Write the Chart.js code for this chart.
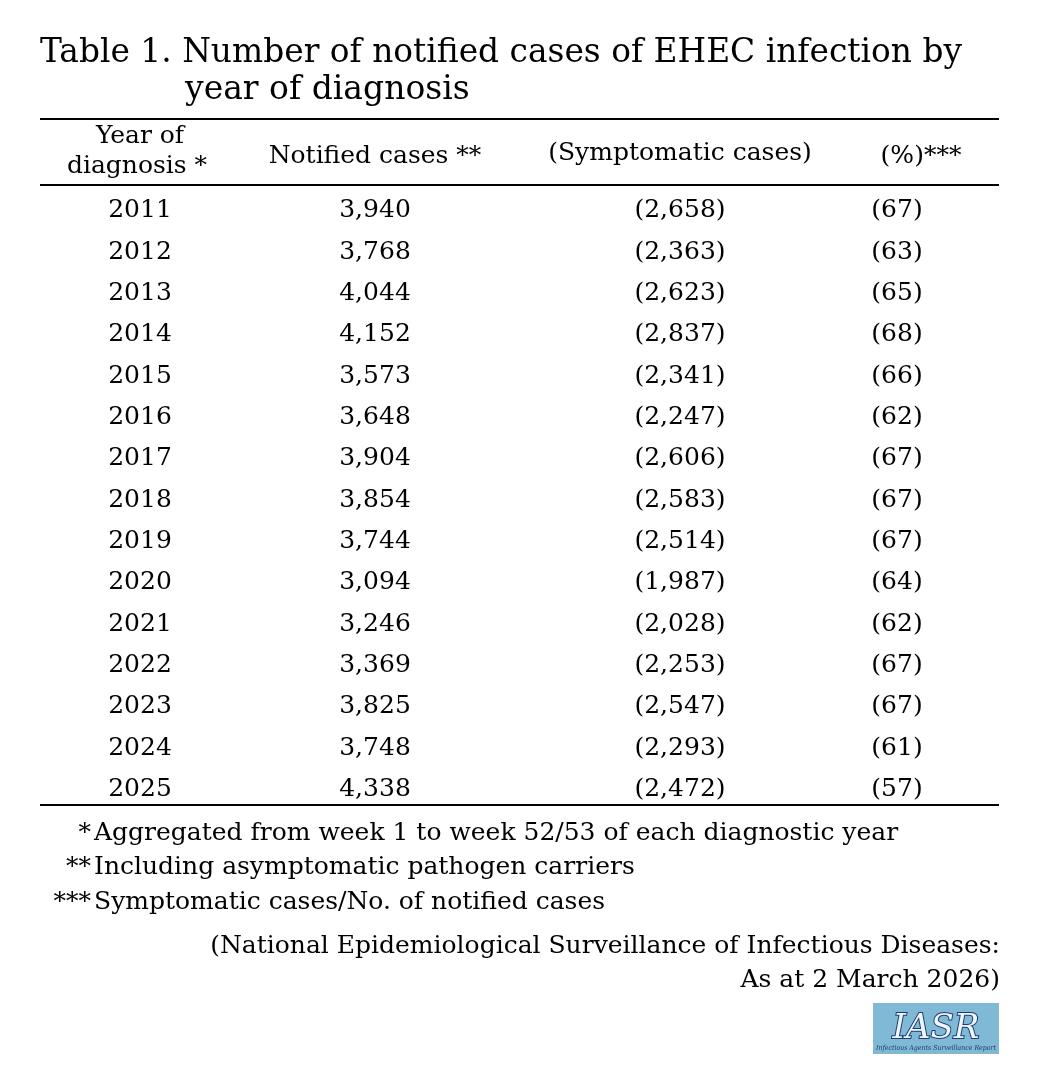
<!DOCTYPE html>
<html lang="en">
<head>
<meta charset="UTF-8">
<title>EHEC notified cases</title>
<script src="https://cdn.jsdelivr.net/npm/chart.js"></script>
<style>
  html, body { margin: 0; padding: 0; background: #fff; }
  #wrap { width: 1039px; height: 1080px; }
</style>
</head>
<body>
<div id="wrap"><canvas id="tbl"></canvas></div>
<script>
// table data
const years = ["2011","2012","2013","2014","2015","2016","2017","2018","2019","2020","2021","2022","2023","2024","2025"];
const notified = [3940, 3768, 4044, 4152, 3573, 3648, 3904, 3854, 3744, 3094, 3246, 3369, 3825, 3748, 4338];
const symptomatic = [2658, 2363, 2623, 2837, 2341, 2247, 2606, 2583, 2514, 1987, 2028, 2253, 2547, 2293, 2472];
const percent = [67, 63, 65, 68, 66, 62, 67, 67, 67, 64, 62, 67, 67, 61, 57];

// layout (pixels)
const COL_X = [140, 375, 680, 897];
const FONT = "'DejaVu Serif', serif";
const INK = "#000";
const fmt = n => n.toLocaleString("en-US");

const columns = [
  years,
  notified.map(fmt),
  symptomatic.map(v => "(" + fmt(v) + ")"),
  percent.map(v => "(" + v + ")")
];

const tablePlugin = {
  id: "tablePlugin",
  afterDraw(chart) {
    const ctx = chart.ctx;
    const x = chart.scales.x, y = chart.scales.y;
    ctx.save();
    ctx.fillStyle = INK;
    ctx.strokeStyle = INK;

    // title
    ctx.textAlign = "left";
    ctx.textBaseline = "alphabetic";
    ctx.font = "33px " + FONT;
    ctx.fillText("Table 1. Number of notified cases of EHEC infection by", 40, 62, 922);
    ctx.fillText("year of diagnosis", 185, 99);

    // rules
    ctx.lineWidth = 2;
    [119, 185, 805].forEach(yy => {
      ctx.beginPath(); ctx.moveTo(40, yy); ctx.lineTo(999, yy); ctx.stroke();
    });

    // header
    ctx.font = "25px " + FONT;
    ctx.textAlign = "center";
    ctx.textBaseline = "middle";
    ctx.fillText("Year of", 140, 136);
    ctx.fillText("diagnosis *", 137, 166);
    ctx.fillText("Notified cases **", 375, 156);
    ctx.fillText("(Symptomatic cases)", 680, 153);
    ctx.fillText("(%)***", 921, 156);

    // body cells, placed via the chart scales
    ctx.font = "25px " + FONT;
    chart.data.datasets.forEach((ds, c) => {
      ds.data.forEach((pt, r) => {
        ctx.fillText(columns[c][r], x.getPixelForValue(pt.x), y.getPixelForValue(pt.y));
      });
    });

    // footnotes
    ctx.textBaseline = "alphabetic";
    ctx.textAlign = "right";
    ctx.font = "25px " + FONT;
    ctx.fillText("*", 91, 840);
    ctx.fillText("**", 91, 874);
    ctx.fillText("***", 91, 909);
    ctx.textAlign = "left";
    ctx.fillText("Aggregated from week 1 to week 52/53 of each diagnostic year", 94, 840);
    ctx.fillText("Including asymptomatic pathogen carriers", 94, 874);
    ctx.fillText("Symptomatic cases/No. of notified cases", 94, 909);
    ctx.textAlign = "right";
    ctx.fillText("(National Epidemiological Surveillance of Infectious Diseases:", 1000, 953);
    ctx.fillText("As at 2 March 2026)", 1000, 987);

    // IASR badge
    ctx.fillStyle = "#7fb9d6";
    ctx.fillRect(873, 1003, 126, 51);
    ctx.textAlign = "center";
    ctx.font = "italic 34px " + FONT;
    ctx.lineWidth = 2;
    ctx.strokeStyle = "#1d3b73";
    ctx.strokeText("IASR", 936, 1038);
    ctx.fillStyle = "#eef6fb";
    ctx.fillText("IASR", 936, 1038);
    ctx.font = "italic 7px " + FONT;
    ctx.fillStyle = "#1d3b73";
    ctx.fillText("Infectious Agents Surveillance Report", 936, 1050, 120);
    ctx.restore();
  }
};

new Chart(document.getElementById("tbl"), {
  type: "scatter",
  data: {
    datasets: columns.map((col, c) => ({
      label: "col" + c,
      data: years.map(yr => ({ x: COL_X[c], y: yr })),
      pointRadius: 0
    }))
  },
  options: {
    responsive: true,
    maintainAspectRatio: false,
    animation: false,
    layout: { padding: { top: 190, bottom: 270, left: 0, right: 0 } },
    plugins: { legend: { display: false }, tooltip: { enabled: false } },
    scales: {
      x: { type: "linear", min: 0, max: 1039, display: false },
      y: { type: "category", labels: years, offset: true, display: false }
    }
  },
  plugins: [tablePlugin]
});
</script>
</body>
</html>
